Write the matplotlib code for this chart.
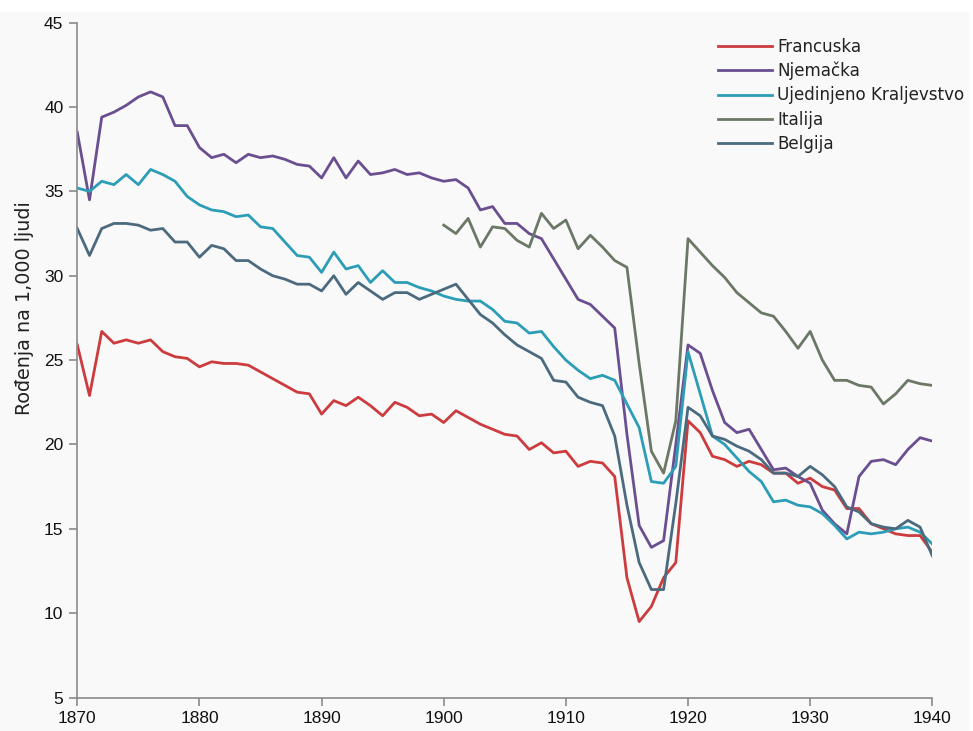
import numpy as np
import matplotlib.pyplot as plt
from matplotlib.patches import Rectangle

years = np.arange(1870, 1941)
italy_years = np.arange(1900, 1941)

# birth rates per 1,000 people
france = [
    25.9, 22.9, 26.7, 26.0, 26.2, 26.0, 26.2, 25.5, 25.2, 25.1,
    24.6, 24.9, 24.8, 24.8, 24.7, 24.3, 23.9, 23.5, 23.1, 23.0,
    21.8, 22.6, 22.3, 22.8, 22.3, 21.7, 22.5, 22.2, 21.7, 21.8,
    21.3, 22.0, 21.6, 21.2, 20.9, 20.6, 20.5, 19.7, 20.1, 19.5,
    19.6, 18.7, 19.0, 18.9, 18.1, 12.1, 9.5, 10.4, 12.1, 13.0,
    21.4, 20.7, 19.3, 19.1, 18.7, 19.0, 18.8, 18.3, 18.3, 17.7,
    18.0, 17.5, 17.3, 16.2, 16.2, 15.3, 15.0, 14.7, 14.6, 14.6,
    13.6,
]
germany = [
    38.5, 34.5, 39.4, 39.7, 40.1, 40.6, 40.9, 40.6, 38.9, 38.9,
    37.6, 37.0, 37.2, 36.7, 37.2, 37.0, 37.1, 36.9, 36.6, 36.5,
    35.8, 37.0, 35.8, 36.8, 36.0, 36.1, 36.3, 36.0, 36.1, 35.8,
    35.6, 35.7, 35.2, 33.9, 34.1, 33.1, 33.1, 32.5, 32.2, 31.0,
    29.8, 28.6, 28.3, 27.6, 26.9, 20.6, 15.2, 13.9, 14.3, 20.0,
    25.9, 25.4, 23.2, 21.3, 20.7, 20.9, 19.7, 18.5, 18.6, 18.1,
    17.7, 16.1, 15.3, 14.7, 18.1, 19.0, 19.1, 18.8, 19.7, 20.4,
    20.2,
]
uk = [
    35.2, 35.0, 35.6, 35.4, 36.0, 35.4, 36.3, 36.0, 35.6, 34.7,
    34.2, 33.9, 33.8, 33.5, 33.6, 32.9, 32.8, 32.0, 31.2, 31.1,
    30.2, 31.4, 30.4, 30.6, 29.6, 30.3, 29.6, 29.6, 29.3, 29.1,
    28.8, 28.6, 28.5, 28.5, 28.0, 27.3, 27.2, 26.6, 26.7, 25.8,
    25.0, 24.4, 23.9, 24.1, 23.8, 22.4, 21.0, 17.8, 17.7, 18.7,
    25.5, 23.0, 20.5, 20.0, 19.2, 18.4, 17.8, 16.6, 16.7, 16.4,
    16.3, 15.9, 15.2, 14.4, 14.8, 14.7, 14.8, 15.0, 15.1, 14.8,
    14.1,
]
italy = [
    33.0, 32.5, 33.4, 31.7, 32.9, 32.8, 32.1, 31.7, 33.7, 32.8,
    33.3, 31.6, 32.4, 31.7, 30.9, 30.5, 24.8, 19.6, 18.3, 21.4,
    32.2, 31.4, 30.6, 29.9, 29.0, 28.4, 27.8, 27.6, 26.7, 25.7,
    26.7, 25.0, 23.8, 23.8, 23.5, 23.4, 22.4, 23.0, 23.8, 23.6,
    23.5,
]
belgium = [
    32.8, 31.2, 32.8, 33.1, 33.1, 33.0, 32.7, 32.8, 32.0, 32.0,
    31.1, 31.8, 31.6, 30.9, 30.9, 30.4, 30.0, 29.8, 29.5, 29.5,
    29.1, 30.0, 28.9, 29.6, 29.1, 28.6, 29.0, 29.0, 28.6, 28.9,
    29.2, 29.5, 28.6, 27.7, 27.2, 26.5, 25.9, 25.5, 25.1, 23.8,
    23.7, 22.8, 22.5, 22.3, 20.5, 16.4, 13.0, 11.4, 11.4, 16.5,
    22.2, 21.7, 20.5, 20.3, 19.9, 19.6, 19.1, 18.3, 18.3, 18.1,
    18.7, 18.2, 17.5, 16.3, 16.0, 15.3, 15.1, 15.0, 15.5, 15.1,
    13.4,
]

series = [
    ("Francuska", years, france, "#cc3b3d"),
    ("Njemačka", years, germany, "#6a4f90"),
    ("Ujedinjeno Kraljevstvo", years, uk, "#2c9db6"),
    ("Italija", italy_years, italy, "#6b7866"),
    ("Belgija", years, belgium, "#4c6a7e"),
]

bg = "#f9f9f9"
fig = plt.figure(figsize=(9.73, 7.31), dpi=100, facecolor="white")
# light grey canvas with a thin white strip on top and right, as in the scan
canvas = Rectangle((0, 0), 968 / 973, 1 - 12 / 731,
                   transform=fig.transFigure, color=bg, zorder=-10)
fig.add_artist(canvas)
ax = fig.add_axes([77.3 / 973, 1 - 697.5 / 731,
                   (932.3 - 77.3) / 973, (697.5 - 22.7) / 731])
ax.set_facecolor(bg)

for name, x, y, color in series:
    ax.plot(x, y, color=color, linewidth=2.0, label=name)

ax.set_xlim(1870, 1940)
ax.set_ylim(5, 45)
ax.set_xticks(range(1870, 1941, 10))
ax.set_yticks(range(5, 46, 5))

for side in ("top", "right"):
    ax.spines[side].set_visible(False)
for side in ("left", "bottom"):
    ax.spines[side].set_color("#8a8a8a")
    ax.spines[side].set_linewidth(1.2)
ax.tick_params(colors="#8a8a8a", length=6, width=1.2, pad=4)
for lab in ax.get_xticklabels() + ax.get_yticklabels():
    lab.set_family("Liberation Sans")
    lab.set_fontsize(12.5)
    lab.set_color("#111111")

fig.text(25 / 973, 1 - 308 / 731, "Rođenja na 1,000 ljudi",
         rotation=90, ha="center", va="center",
         family="DejaVu Sans", fontsize=13.8, color="#222222")

leg = ax.legend(loc="upper left", bbox_to_anchor=(0.741, 0.988),
                frameon=False, fontsize=12.1, handlelength=3.25,
                handletextpad=0.3, labelspacing=0.37, borderaxespad=0)
for t in leg.get_texts():
    t.set_color("#222222")

fig.savefig("out.png", dpi=100, facecolor=fig.get_facecolor())
